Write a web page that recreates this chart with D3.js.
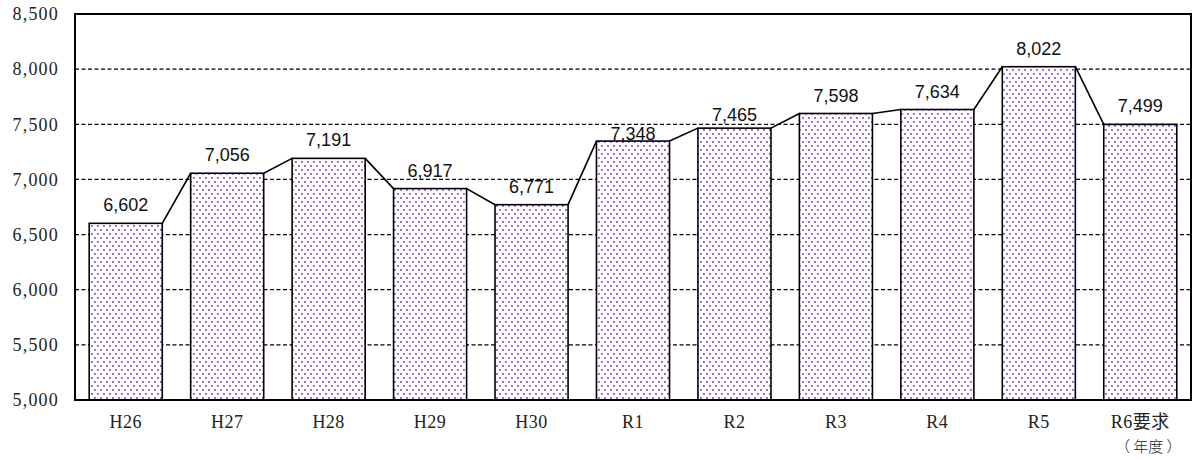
<!DOCTYPE html>
<html>
<head>
<meta charset="utf-8">
<script src="https://cdn.jsdelivr.net/npm/d3@7"></script>
<style>
  body { margin: 0; background: #fff; }
  svg { display: block; }
</style>
</head>
<body>
<svg id="chart" width="1194" height="460"></svg>
<script>
// budget by fiscal year

const years = ["H26", "H27", "H28", "H29", "H30", "R1", "R2", "R3", "R4", "R5", "R6要求"];
const amounts = [6602, 7056, 7191, 6917, 6771, 7348, 7465, 7598, 7634, 8022, 7499];
const yTicks = [5000, 5500, 6000, 6500, 7000, 7500, 8000, 8500];
const unitLabel = "（ 年度 ）";

const width = 1194, height = 460;
const margin = { top: 14, right: 3, bottom: 60, left: 75 };

const svg = d3.select("#chart");

const x = d3.scaleBand()
    .domain(years)
    .range([margin.left, width - margin.right])
    .paddingInner(0.28)
    .paddingOuter(0.14);

const y = d3.scaleLinear()
    .domain([5000, 8500])
    .range([height - margin.bottom, margin.top]);

const fmt = d3.format(",d");

// dotted fill like the excel pattern
const defs = svg.append("defs");
const pat = defs.append("pattern")
    .attr("id", "dots")
    .attr("patternUnits", "userSpaceOnUse")
    .attr("width", 6)
    .attr("height", 8);
pat.append("rect").attr("width", 6).attr("height", 8).attr("fill", "#fff");
pat.append("rect").attr("x", 1).attr("y", 1).attr("width", 1.8).attr("height", 1.8).attr("fill", "#8a4fd0");
pat.append("rect").attr("x", 4).attr("y", 5).attr("width", 1.8).attr("height", 1.8).attr("fill", "#8a4fd0");

// gridlines
svg.append("g")
  .selectAll("line")
  .data(yTicks.slice(1, -1))
  .join("line")
    .attr("x1", margin.left)
    .attr("x2", width - margin.right)
    .attr("y1", d => y(d))
    .attr("y2", d => y(d))
    .attr("stroke", "#000")
    .attr("stroke-width", 1.2)
    .attr("stroke-dasharray", "4,2.5");

// y axis labels
svg.append("g")
    .attr("font-family", "'Liberation Serif', serif")
    .attr("font-size", 18)
    .attr("letter-spacing", 1.2)
    .attr("text-anchor", "end")
  .selectAll("text")
  .data(yTicks)
  .join("text")
    .attr("x", margin.left - 16)
    .attr("y", d => y(d))
    .attr("dy", "0.35em")
    .attr("fill", "#222")
    .text(d => fmt(d));

// bars
svg.append("g")
  .selectAll("rect")
  .data(amounts)
  .join("rect")
    .attr("x", (d, i) => x(years[i]))
    .attr("y", d => y(d))
    .attr("width", x.bandwidth())
    .attr("height", d => y(5000) - y(d))
    .attr("fill", "url(#dots)")
    .attr("stroke", "#000")
    .attr("stroke-width", 1.6);

// connector lines between bar tops
const links = d3.pairs(amounts.map((v, i) => ({ v, i })));
svg.append("g")
  .selectAll("line")
  .data(links)
  .join("line")
    .attr("x1", d => x(years[d[0].i]) + x.bandwidth())
    .attr("y1", d => y(d[0].v))
    .attr("x2", d => x(years[d[1].i]))
    .attr("y2", d => y(d[1].v))
    .attr("stroke", "#000")
    .attr("stroke-width", 1.6);

// value labels (excel nudged a couple down onto the bar)
const lift = [12, 12, 12, 12, 12, 1, 7, 11, 12, 12, 12];
svg.append("g")
    .attr("font-family", "'Liberation Sans', Arial, sans-serif")
    .attr("font-size", 18)
    .attr("text-anchor", "middle")
  .selectAll("text")
  .data(amounts)
  .join("text")
    .attr("x", (d, i) => x(years[i]) + x.bandwidth() / 2)
    .attr("y", (d, i) => y(d) - lift[i])
    .attr("fill", "#111")
    .text(d => fmt(d));

// x labels
const xl = svg.append("g")
    .attr("font-family", "'Liberation Serif', 'Noto Sans CJK JP', serif")
    .attr("font-size", 18)
    .attr("letter-spacing", 0.5)
    .attr("text-anchor", "middle");
xl.selectAll("text")
  .data(years)
  .join("text")
    .attr("x", d => x(d) + x.bandwidth() / 2)
    .attr("y", 428)
    .attr("fill", "#222")
    .text(d => d);
xl.append("text")
    .attr("x", x(years[years.length - 1]) + x.bandwidth() / 2 + 8)
    .attr("y", 452)
    .attr("font-family", "'Noto Sans CJK JP', sans-serif")
    .attr("font-size", 15)
    .attr("font-weight", 300)
    .attr("letter-spacing", 0)
    .attr("fill", "#222")
    .text(unitLabel);

// plot frame
svg.append("rect")
    .attr("x", margin.left)
    .attr("y", margin.top)
    .attr("width", width - margin.right - margin.left)
    .attr("height", y(5000) - margin.top)
    .attr("fill", "none")
    .attr("stroke", "#000")
    .attr("stroke-width", 2);
</script>
</body>
</html>
